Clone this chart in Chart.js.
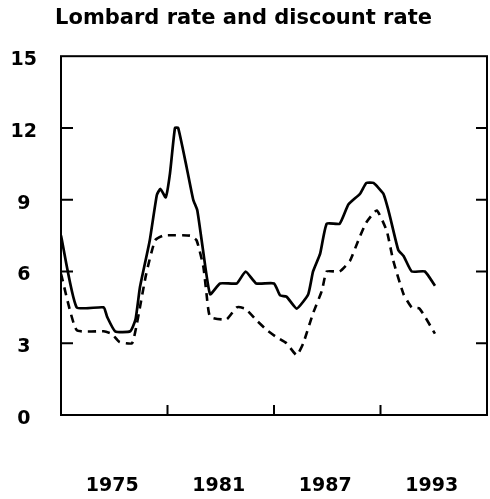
<!DOCTYPE html>
<html lang="en">
<head>
    <meta charset="UTF-8">
    <title>Lombard rate and discount rate</title>
    <script src="https://cdn.jsdelivr.net/npm/chart.js"></script>
    <style>
        body { margin: 0; background: #fff; }
        .chart-box { width: 490px; height: 499px; }
    </style>
</head>
<body>
    <div class="chart-box">
        <canvas id="rateChart"></canvas>
    </div>

    <script type="text/javascript">
        // Lombard rate (solid line), percent
        var lombardYears = [1972.0, 1972.88, 1974.4, 1974.6, 1975.05, 1975.9, 1976.2, 1976.45, 1977.0, 1977.4,
                            1977.6, 1977.9, 1978.14, 1978.42, 1978.6, 1979.08, 1979.45, 1979.68, 1980.0, 1980.4,
                            1980.96, 1981.9, 1982.4, 1983.0, 1984.0, 1984.34, 1984.7, 1985.28, 1985.93, 1986.2,
                            1986.6, 1986.97, 1987.7, 1988.19, 1988.85, 1989.2, 1989.6, 1990.16, 1990.5, 1991.0,
                            1991.3, 1991.76, 1992.5, 1993.07];
        var lombardRates = [7.5, 4.5, 4.5, 4.1, 3.5, 3.5, 4.0, 5.35, 7.3, 9.2,
                            9.45, 9.1, 10.1, 12.0, 12.0, 10.35, 9.0, 8.55, 6.9, 5.05,
                            5.5, 5.5, 6.0, 5.5, 5.5, 5.0, 4.95, 4.45, 5.05, 6.0,
                            6.75, 8.0, 8.0, 8.8, 9.25, 9.7, 9.7, 9.25, 8.4, 6.9,
                            6.65, 6.0, 6.0, 5.4];

        // discount rate (dashed line), percent
        var discountYears = [1972.0, 1972.88, 1974.4, 1974.85, 1975.3, 1976.0, 1976.27, 1976.8, 1977.3, 1977.77,
                             1979.27, 1979.64, 1980.02, 1980.2, 1980.4, 1981.33, 1981.9, 1982.37, 1983.03, 1983.6,
                             1984.15, 1984.7, 1985.28, 1985.65, 1986.2, 1986.7, 1986.97, 1987.7, 1988.28, 1988.75,
                             1989.2, 1989.79, 1990.35, 1990.72, 1991.3, 1991.76, 1992.2, 1993.07];
        var discountRates = [5.9, 3.55, 3.5, 3.4, 3.05, 3.0, 3.8, 5.9, 7.3, 7.5,
                             7.5, 7.3, 6.2, 5.05, 4.1, 4.0, 4.5, 4.45, 3.95, 3.55,
                             3.25, 3.0, 2.5, 3.0, 4.25, 5.2, 6.0, 6.0, 6.45, 7.3,
                             8.05, 8.55, 7.7, 6.45, 5.05, 4.5, 4.45, 3.4];

        // axes
        var yearMin = 1972, yearMax = 1996;
        var yearLabels = [1975, 1981, 1987, 1993];   // printed under the axis
        var yearTickMarks = [1978, 1984, 1990];      // small marks on the bottom edge
        var rateTicks = [0, 3, 6, 9, 12, 15];
        var rateTickMarks = [3, 6, 9, 12];

        function toPoints(xs, ys) {
            return xs.map(function (x, i) { return { x: x, y: ys[i] }; });
        }

        var tickFont = { family: 'DejaVu Sans', weight: 'bold', size: 19 };

        // box around the plot and inward tick marks
        var framePlugin = {
            id: 'frame',
            afterDatasetsDraw: function (chart) {
                var ctx = chart.ctx, a = chart.chartArea;
                var xs = chart.scales.x, ys = chart.scales.y;
                ctx.save();
                ctx.strokeStyle = '#000';
                ctx.lineWidth = 2;
                ctx.strokeRect(a.left, a.top, a.right - a.left, a.bottom - a.top);
                ctx.beginPath();
                rateTickMarks.forEach(function (v) {
                    var py = ys.getPixelForValue(v);
                    ctx.moveTo(a.left, py); ctx.lineTo(a.left + 12, py);
                    ctx.moveTo(a.right, py); ctx.lineTo(a.right - 11, py);
                });
                yearTickMarks.forEach(function (v) {
                    var px = xs.getPixelForValue(v);
                    ctx.moveTo(px, a.bottom); ctx.lineTo(px, a.bottom - 10);
                });
                ctx.stroke();
                ctx.restore();
            }
        };

        var rateChart = new Chart(document.getElementById('rateChart').getContext('2d'), {
            type: 'line',
            data: {
                datasets: [{
                    label: 'Lombard rate',
                    data: toPoints(lombardYears, lombardRates),
                    borderColor: '#000',
                    borderWidth: 2.7,
                    tension: 0.15
                }, {
                    label: 'Discount rate',
                    data: toPoints(discountYears, discountRates),
                    borderColor: '#000',
                    borderWidth: 2.6,
                    borderDash: [8, 6],
                    tension: 0.15
                }]
            },
            options: {
                responsive: true,
                maintainAspectRatio: false,
                animation: false,
                layout: { padding: { left: 0, right: 3, top: 0, bottom: 0 } },
                elements: { point: { radius: 0 } },
                plugins: {
                    legend: { display: false },
                    tooltip: { enabled: false },
                    title: {
                        display: true,
                        text: 'Lombard rate and discount rate',
                        color: '#000',
                        font: { family: 'DejaVu Sans', weight: 'bold', size: 21 },
                        padding: { top: 6, bottom: 25 }
                    }
                },
                scales: {
                    x: {
                        type: 'linear',
                        min: yearMin,
                        max: yearMax,
                        grid: { display: false, drawTicks: false },
                        border: { display: false },
                        afterBuildTicks: function (scale) {
                            scale.ticks = yearLabels.map(function (v) { return { value: v }; });
                        },
                        afterFit: function (scale) {
                            scale.height = 84;
                            scale.paddingLeft = 0;
                            scale.paddingRight = 0;
                        },
                        ticks: {
                            color: '#000',
                            font: tickFont,
                            padding: 60,
                            labelOffset: -2,
                            maxRotation: 0,
                            autoSkip: false,
                            callback: function (v) { return String(v); }
                        }
                    },
                    y: {
                        min: 0,
                        max: 15,
                        grid: { display: false, drawTicks: false },
                        border: { display: false },
                        afterBuildTicks: function (scale) {
                            scale.ticks = rateTicks.map(function (v) { return { value: v }; });
                        },
                        afterFit: function (scale) {
                            scale.width = 61;
                            scale.paddingTop = 0;
                            scale.paddingBottom = 0;
                        },
                        ticks: {
                            color: '#000',
                            font: tickFont,
                            crossAlign: 'center',
                            padding: 24,
                            labelOffset: 4
                        }
                    }
                }
            },
            plugins: [framePlugin]
        });
    </script>
</body>
</html>
